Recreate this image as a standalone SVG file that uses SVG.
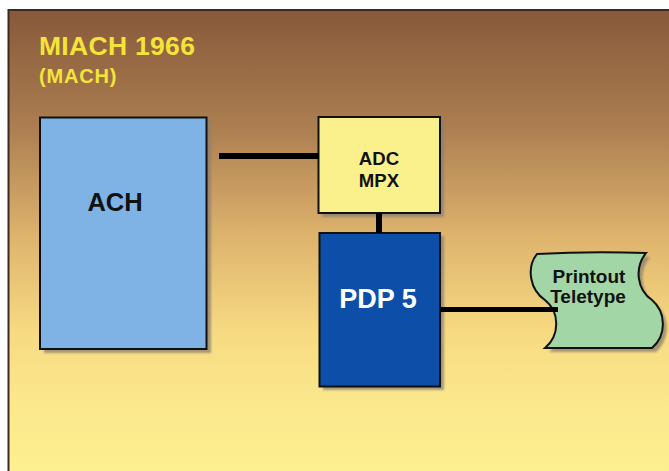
<svg xmlns="http://www.w3.org/2000/svg" width="669" height="471" viewBox="0 0 669 471">
<defs>
<linearGradient id="bg" x1="0" y1="0" x2="0" y2="1">
<stop offset="0" stop-color="#87593a"/>
<stop offset="0.25" stop-color="#ab7d50"/>
<stop offset="0.5" stop-color="#dfb56e"/>
<stop offset="0.7" stop-color="#f7da82"/>
<stop offset="0.85" stop-color="#fbe88c"/>
<stop offset="1" stop-color="#fdf090"/>
</linearGradient>
<filter id="sh" x="-10%" y="-10%" width="130%" height="130%">
<feGaussianBlur stdDeviation="0.8"/>
</filter>
<style>
.box{stroke:#111;stroke-width:2}
.shadow{fill:#8a8070;opacity:0.75;filter:url(#sh)}
.lbl{font-family:"Liberation Sans",Arial,sans-serif;font-weight:bold;text-anchor:middle}
.title{font-family:"Liberation Sans",Arial,sans-serif;font-weight:bold;fill:#f4e43a}
.wire{stroke:#000;fill:none}
</style>
</defs>
<rect x="0" y="0" width="669" height="471" fill="#ffffff"/>
<rect x="8" y="10" width="661" height="461" fill="url(#bg)"/>
<path d="M8.5,471 V10 H669" fill="none" stroke="#3a2a20" stroke-width="2"/>
<text class="title" x="39" y="55" font-size="26.5" letter-spacing="0.3">MIACH 1966</text>
<text class="title" x="39" y="83" font-size="20" letter-spacing="0.8">(MACH)</text>
<g id="ach">
<rect class="shadow" x="44" y="121" width="167" height="232"/>
<rect class="box" x="40" y="117.5" width="166.5" height="231.5" fill="#80b3e5"/>
<text class="lbl" x="115" y="211" font-size="25.5" fill="#111">ACH</text>
</g>
<g id="adc">
<rect class="shadow" x="322" y="120" width="122" height="97"/>
<rect class="box" x="318.5" y="117" width="121.5" height="96" fill="#faf08c"/>
<text class="lbl" x="379" y="165" font-size="18.6" fill="#111">ADC</text>
<text class="lbl" x="379" y="186.7" font-size="18.6" fill="#111">MPX</text>
</g>
<g id="pdp5">
<rect class="shadow" x="323" y="236" width="121" height="154"/>
<rect class="box" x="319.5" y="233" width="120.5" height="153.5" fill="#0d4fa8"/>
<text class="lbl" x="378" y="308.3" font-size="27" fill="#ffffff">PDP 5</text>
</g>
<g id="printout">
<path class="shadow" transform="translate(4,4)" d="M537,254 Q590,251 646,253 C634,268 637,290 652,300 C666,312 667,335 652,348 L545,348 C560,335 560,312 545,300 C530,290 526,268 537,254 Z"/>
<path class="box" d="M537,254 Q590,251 646,253 C634,268 637,290 652,300 C666,312 667,335 652,348 L545,348 C560,335 560,312 545,300 C530,290 526,268 537,254 Z" fill="#a3d6a6"/>
<text class="lbl" x="589" y="283" font-size="19" fill="#111">Printout</text>
<text class="lbl" x="588" y="303" font-size="19" fill="#111">Teletype</text>
</g>
<g id="connectors">
<line class="wire" x1="219" y1="156" x2="319" y2="156" stroke-width="6"/>
<line class="wire" x1="379" y1="213" x2="379" y2="233" stroke-width="6"/>
<line class="wire" x1="440" y1="309.5" x2="558" y2="309.5" stroke-width="5"/>
</g>
</svg>
